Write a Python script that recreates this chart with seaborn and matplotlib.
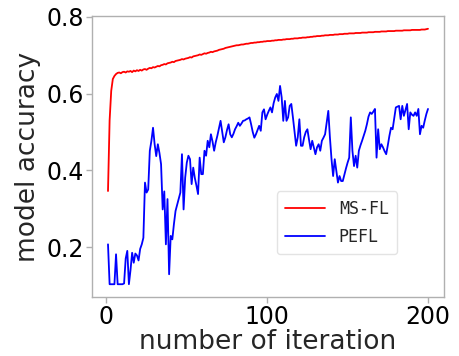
import numpy as np
import pandas as pd
import matplotlib
matplotlib.use("Agg")
import matplotlib.pyplot as plt
import seaborn as sns

iterations = list(range(1, 201))

ms_fl = [
    0.346, 0.530, 0.607, 0.638, 0.646, 0.651, 0.654, 0.655, 0.653, 0.656,
    0.657, 0.655, 0.658, 0.657, 0.659, 0.656, 0.660, 0.658, 0.661, 0.659,
    0.662, 0.660, 0.663, 0.664, 0.662, 0.665, 0.667, 0.666, 0.669, 0.668,
    0.670, 0.672, 0.671, 0.674, 0.675, 0.677, 0.676, 0.679, 0.680, 0.681,
    0.683, 0.682, 0.685, 0.686, 0.687, 0.688, 0.690, 0.689, 0.691, 0.692,
    0.693, 0.695, 0.694, 0.697, 0.698, 0.699, 0.700, 0.702, 0.701, 0.703,
    0.705, 0.704, 0.706, 0.707, 0.709, 0.708, 0.710, 0.711, 0.712, 0.714,
    0.715, 0.716, 0.717, 0.719, 0.720, 0.721, 0.722, 0.723, 0.724, 0.725,
    0.726, 0.726, 0.727, 0.728, 0.728, 0.729, 0.730, 0.730, 0.731, 0.732,
    0.732, 0.733, 0.733, 0.734, 0.734, 0.735, 0.735, 0.736, 0.736, 0.737,
    0.737, 0.737, 0.738, 0.738, 0.739, 0.739, 0.740, 0.740, 0.740, 0.741,
    0.741, 0.742, 0.742, 0.742, 0.743, 0.743, 0.744, 0.744, 0.744, 0.745,
    0.745, 0.746, 0.746, 0.746, 0.747, 0.747, 0.748, 0.748, 0.749, 0.749,
    0.750, 0.750, 0.750, 0.751, 0.751, 0.752, 0.752, 0.752, 0.753, 0.753,
    0.753, 0.754, 0.754, 0.754, 0.755, 0.755, 0.755, 0.756, 0.756, 0.756,
    0.757, 0.757, 0.757, 0.757, 0.758, 0.758, 0.758, 0.758, 0.759, 0.759,
    0.759, 0.759, 0.760, 0.760, 0.760, 0.760, 0.761, 0.761, 0.761, 0.761,
    0.762, 0.762, 0.762, 0.762, 0.763, 0.763, 0.763, 0.763, 0.763, 0.764,
    0.764, 0.764, 0.764, 0.764, 0.765, 0.765, 0.765, 0.765, 0.765, 0.766,
    0.766, 0.766, 0.766, 0.766, 0.766, 0.767, 0.767, 0.767, 0.768, 0.769,
]

pefl = [
    0.207, 0.103, 0.103, 0.103, 0.103, 0.181, 0.103, 0.103, 0.103, 0.103,
    0.105, 0.170, 0.190, 0.103, 0.140, 0.185, 0.159, 0.183, 0.178, 0.165,
    0.195, 0.207, 0.224, 0.368, 0.342, 0.350, 0.451, 0.477, 0.511, 0.468,
    0.437, 0.468, 0.445, 0.416, 0.298, 0.345, 0.207, 0.325, 0.129, 0.229,
    0.220, 0.260, 0.294, 0.310, 0.325, 0.342, 0.442, 0.298, 0.381, 0.420,
    0.438, 0.429, 0.364, 0.407, 0.380, 0.360, 0.338, 0.433, 0.390, 0.390,
    0.451, 0.438, 0.477, 0.460, 0.494, 0.475, 0.451, 0.473, 0.490, 0.510,
    0.529, 0.500, 0.473, 0.486, 0.505, 0.520, 0.494, 0.486, 0.495, 0.507,
    0.515, 0.524, 0.516, 0.522, 0.529, 0.530, 0.533, 0.535, 0.538, 0.520,
    0.500, 0.485, 0.494, 0.505, 0.516, 0.503, 0.551, 0.559, 0.533, 0.545,
    0.555, 0.564, 0.551, 0.575, 0.590, 0.599, 0.581, 0.620, 0.590, 0.529,
    0.581, 0.529, 0.538, 0.568, 0.573, 0.538, 0.500, 0.464, 0.486, 0.533,
    0.464, 0.464, 0.486, 0.500, 0.507, 0.480, 0.455, 0.477, 0.460, 0.442,
    0.460, 0.468, 0.451, 0.477, 0.485, 0.494, 0.525, 0.555, 0.486, 0.429,
    0.385, 0.429, 0.398, 0.368, 0.385, 0.372, 0.372, 0.389, 0.405, 0.420,
    0.433, 0.538, 0.451, 0.411, 0.438, 0.407, 0.451, 0.465, 0.477, 0.490,
    0.503, 0.520, 0.540, 0.551, 0.547, 0.553, 0.560, 0.433, 0.507, 0.455,
    0.468, 0.460, 0.450, 0.442, 0.465, 0.490, 0.511, 0.507, 0.535, 0.564,
    0.566, 0.568, 0.533, 0.568, 0.542, 0.558, 0.573, 0.507, 0.551, 0.545,
    0.542, 0.551, 0.542, 0.560, 0.494, 0.516, 0.511, 0.530, 0.547, 0.560,
]

series_names = ["MS-FL", "PEFL"]
series_colors = ["red", "blue"]
x_ticks = [0, 100, 200]
y_ticks = [0.2, 0.4, 0.6, 0.8]
y_tick_labels = ["0.2", "0.4", "0.6", "0.8"]

sns.set_style("white", {
    "axes.edgecolor": "#b0b0b0",
    "xtick.bottom": True,
    "ytick.left": True,
})
plt.rcParams["font.family"] = ["DejaVu Sans"]
plt.rcParams["xtick.color"] = "#b0b0b0"
plt.rcParams["ytick.color"] = "#b0b0b0"
plt.rcParams["xtick.labelcolor"] = "black"
plt.rcParams["ytick.labelcolor"] = "black"

fig = plt.figure(figsize=(4.59, 3.56), dpi=100)
ax = fig.add_axes([92 / 459, 59 / 356, 352 / 459, 281 / 356])

sns.lineplot(x=iterations, y=ms_fl, ax=ax, color=series_colors[0], linewidth=1.3, label=series_names[0])
sns.lineplot(x=iterations, y=pefl, ax=ax, color=series_colors[1], linewidth=1.3, label=series_names[1])

ax.set_xticks(x_ticks)
ax.set_yticks(y_ticks)
ax.set_yticklabels(y_tick_labels)
ax.tick_params(axis="both", labelsize=17, length=4, width=1, pad=2)
ax.set_xlabel("number of iteration", fontsize=19, labelpad=0)
ax.set_ylabel("model accuracy", fontsize=19, labelpad=4)
for s in ax.spines.values():
    s.set_color("#b0b0b0")
    s.set_linewidth(1.0)

ax.legend(loc="lower left", bbox_to_anchor=(0.526, 0.153), borderaxespad=0,
          prop={"family": "DejaVu Sans Mono", "size": 12}, handlelength=2.4,
          frameon=True, edgecolor="#dddddd", fancybox=True, labelspacing=0.6,
          borderpad=0.5)

fig.savefig("out.png", dpi=100)
